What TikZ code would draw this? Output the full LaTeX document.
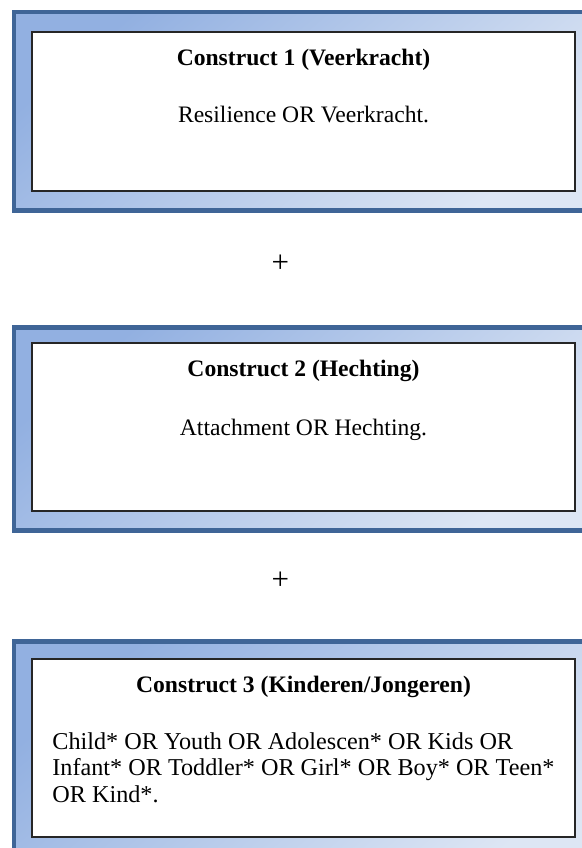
\documentclass[tikz,border=0pt]{standalone}
\usepackage{fontspec}
\setmainfont{Liberation Serif}
\definecolor{framedark}{HTML}{3F6597}
\definecolor{gradA}{HTML}{92B0E1}
\definecolor{gradB}{HTML}{DDE6F4}
\tikzset{
  outerframe/.style={draw=framedark, line width=2.2pt, top color=gradA, bottom color=gradB, shading angle=40},
  innerbox/.style={draw=black!85, line width=0.65pt, fill=white},
  headtxt/.style={font=\fontsize{11.8}{13.3}\selectfont\bfseries, anchor=base, inner sep=0pt},
  bodytxt/.style={font=\fontsize{11.8}{13.3}\selectfont, anchor=base, inner sep=0pt},
  bodyleft/.style={font=\fontsize{12.1}{13.3}\selectfont, anchor=base west, inner sep=0pt},
  plustxt/.style={font=\fontsize{15.5}{16}\selectfont, inner sep=0pt}
}
\begin{document}
\begin{tikzpicture}[x=0.5pt,y=-0.5pt]
\useasboundingbox (0,0) rectangle (582,848);
\clip (0,0) rectangle (582,848);
% frame 1
\path[outerframe] (14.25,12.25) rectangle (592,210.5);
\draw[innerbox] (32,32) rectangle (575,191);
\node[headtxt] (h1) at (303.5,65) {Construct 1 (Veerkracht)};
\node[bodytxt] (t1) at (303.5,122) {Resilience OR Veerkracht.};
% plus 1
\node[plustxt] (p1) at (280.3,263.7) {+};
% frame 2
\path[outerframe] (14.25,327.5) rectangle (592,530.5);
\draw[innerbox] (32,343) rectangle (575,511);
\node[headtxt] (h2) at (303.5,376) {Construct 2 (Hechting)};
\node[bodytxt] (t2) at (303.5,435) {Attachment OR Hechting.};
% plus 2
\node[plustxt] (p2) at (280.3,581) {+};
% frame 3
\path[outerframe] (14.25,641.5) rectangle (592,880);
\draw[innerbox] (32,659) rectangle (575,837);
\node[headtxt] (h3) at (303.5,692) {Construct 3 (Kinderen/Jongeren)};
\node[bodyleft] (t3a) at (52,749) {Child* OR Youth OR Adolescen* OR Kids OR};
\node[bodyleft] (t3b) at (52,775.5) {Infant* OR Toddler* OR Girl* OR Boy* OR Teen*};
\node[bodyleft] (t3c) at (52,802) {OR Kind*.};
\end{tikzpicture}
\end{document}
